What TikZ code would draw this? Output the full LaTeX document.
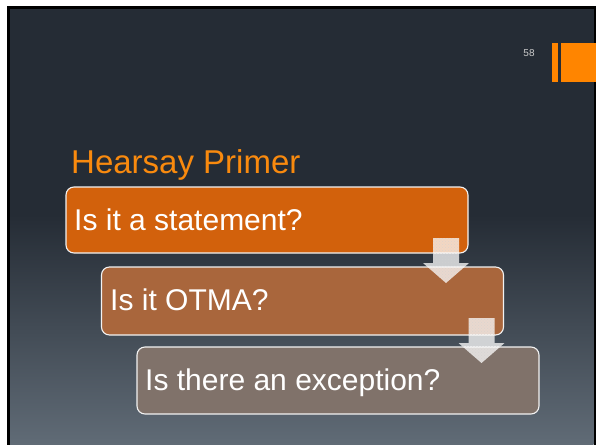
\documentclass[tikz,border=0pt]{standalone}
\usepackage{fontspec}
\setmainfont{Liberation Sans}
\usetikzlibrary{patterns}
\definecolor{bgtop}{HTML}{252C35}
\definecolor{bgbot}{HTML}{606B76}
\definecolor{barorange}{HTML}{FF8500}
\definecolor{titleorange}{HTML}{F98A0E}
\definecolor{boxA}{HTML}{D2610C}
\definecolor{boxB}{HTML}{A9663C}
\definecolor{boxC}{HTML}{80726A}
\tikzset{
  stepbox/.style={draw=white!90!gray, line width=1.1pt, rounded corners=8pt,
    minimum width=402pt, minimum height=67pt, inner sep=0pt},
  boxtext/.style={anchor=base west, inner sep=0pt, text=white,
    font=\fontsize{30}{36}\selectfont},
  downarrow/.style={fill=white, fill opacity=0.75, draw=none},
  arrowdots/.style={pattern=crosshatch dots, pattern color=gray!35, fill opacity=0.6}
}
\begin{document}
\begin{tikzpicture}[x=1pt,y=-1pt]
\useasboundingbox (0,0) rectangle (596,444);
\fill[white] (0,0) rectangle (596,444);
\fill[bgtop] (9.5,9.5) rectangle (593.5,444);
\shade[top color=bgtop, bottom color=bgbot] (9.5,215) rectangle (593.5,444);
\draw[black, line width=3pt] (8,8) rectangle (595,470);
% orange bars
\fill[barorange] (552,43) rectangle (558,82);
\fill[barorange] (561,43) rectangle (596,82);
\node[inner sep=0pt, text=gray!40!white, font=\fontsize{10}{12}\selectfont] (pg) at (529,53) {58};
% title
\node[anchor=base west, inner sep=0pt, text=titleorange, font=\fontsize{33}{40}\selectfont] (title) at (71,173) {Hearsay Primer};
% boxes
\node[stepbox, fill=boxA, minimum height=66pt] (b1) at (267,220) {};
\node[stepbox, fill=boxB, minimum height=68pt] (b2) at (302.5,301) {};
\node[stepbox, fill=boxC] (b3) at (338,380.5) {};
\node[boxtext] (t1) at (74,230) {Is it a statement?};
\node[boxtext] (t2) at (110,310) {Is it OTMA?};
\node[boxtext] (t3) at (145,390) {Is there an exception?};
% arrows
\coordinate (a1) at (446,283);
\coordinate (a2) at (481.5,363);
\foreach \t in {a1,a2}{
  \path[downarrow] (\t) -- ++(-23,-20) -- ++(10,0) -- ++(0,-25) -- ++(26,0) -- ++(0,25) -- ++(10,0) -- cycle;
  \path[arrowdots] (\t) -- ++(-23,-20) -- ++(10,0) -- ++(0,-25) -- ++(26,0) -- ++(0,25) -- ++(10,0) -- cycle;
}
\end{tikzpicture}
\end{document}
